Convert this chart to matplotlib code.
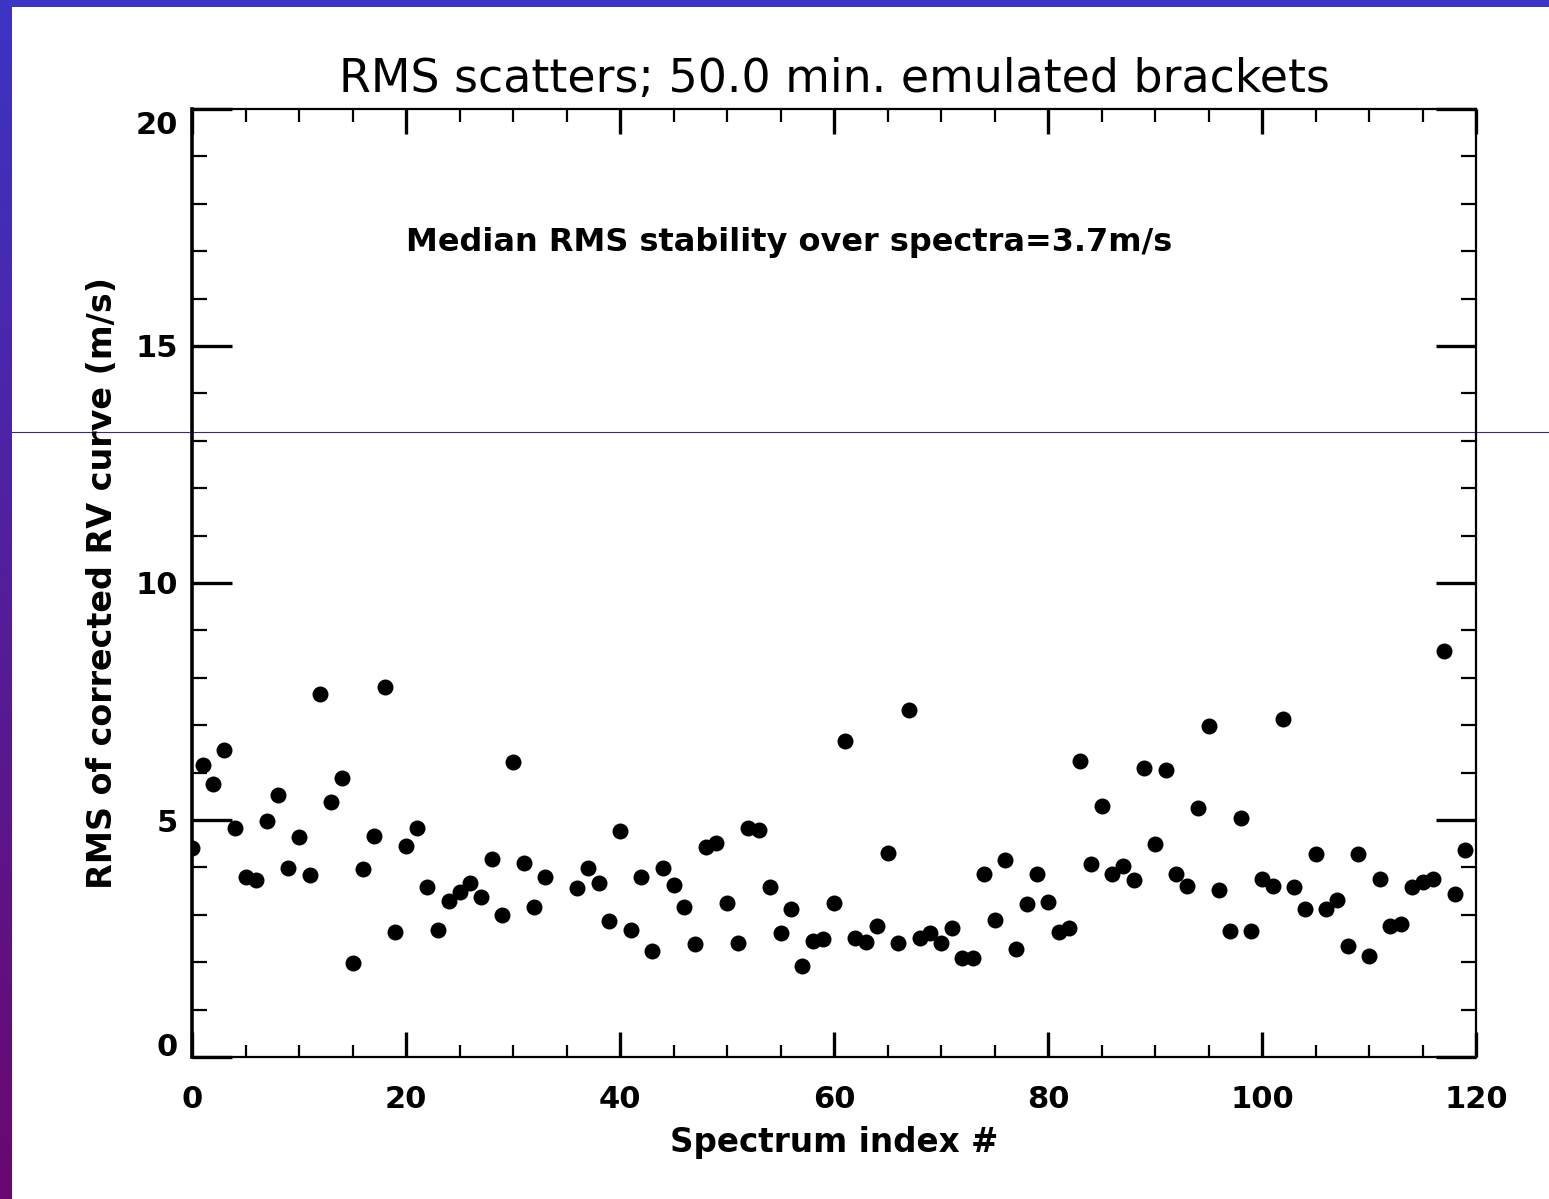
import numpy as np
import matplotlib
matplotlib.use("Agg")
import matplotlib.pyplot as plt
import matplotlib.transforms as mtransforms
from matplotlib.ticker import MultipleLocator

# ---------------- data ----------------
spectrum_index = [i for i in range(120) if i not in (34, 35)]
rms_values = [
    4.41, 6.17, 5.77, 6.48, 4.84, 3.80, 3.74, 4.98, 5.53, 3.99,
    4.65, 3.84, 7.65, 5.39, 5.89, 1.99, 3.97, 4.67, 7.81, 2.64,
    4.46, 4.84, 3.59, 2.68, 3.29, 3.48, 3.67, 3.38, 4.18, 3.00,
    6.23, 4.10, 3.17, 3.80,
    3.57, 3.99, 3.67, 2.87, 4.77, 2.68, 3.80, 2.24, 3.99, 3.63,
    3.17, 2.39, 4.44, 4.52, 3.25, 2.41, 4.84, 4.79, 3.59, 2.62,
    3.13, 1.92, 2.45, 2.49, 3.25, 6.67, 2.51, 2.43, 2.77, 4.31,
    2.41, 7.33, 2.51, 2.62, 2.41, 2.72, 2.09, 2.09, 3.86, 2.89,
    4.16, 2.28, 3.23, 3.86, 3.27, 2.64, 2.72, 6.25, 4.08, 5.30,
    3.86, 4.03, 3.74, 6.10, 4.50, 6.06, 3.86, 3.61, 5.26, 6.99,
    3.53, 2.66, 5.05, 2.66, 3.76, 3.61, 7.14, 3.59, 3.13, 4.29,
    3.13, 3.32, 2.34, 4.29, 2.13, 3.76, 2.77, 2.81, 3.59, 3.70,
    3.76, 8.57, 3.44, 4.37,
]
x_ticks = [0, 20, 40, 60, 80, 100, 120]
y_ticks = [0, 5, 10, 15, 20]
title_text = "RMS scatters; 50.0 min. emulated brackets"
xlabel_text = "Spectrum index #"
ylabel_text = "RMS of corrected RV curve (m/s)"
note_text = "Median RMS stability over spectra=3.7m/s"

W, H = 1549, 1199
fig = plt.figure(figsize=(W / 100, H / 100), dpi=100, facecolor="white")

# ---------------- background decoration ----------------
bg = fig.add_axes([0, 0, 1, 1], zorder=-5)
bg.set_xlim(0, W)
bg.set_ylim(H, 0)
bg.axis("off")
top_col = np.array([0x3c, 0x34, 0xc4]) / 255
bot_col = np.array([0x6a, 0x08, 0x70]) / 255
t = np.linspace(0, 1, 256)[:, None]
grad = (top_col[None, :] * (1 - t) + bot_col[None, :] * t)[:, None, :]
bg.imshow(grad, extent=[0, 12, H, 0], aspect="auto", interpolation="bilinear")
bg.add_patch(plt.Rectangle((0, 0), W, 7, color=top_col, lw=0))
bg.plot([12, W], [431.5, 431.5], color="#3a2590", lw=0.8)
bg.set_xlim(0, W)
bg.set_ylim(H, 0)

# ---------------- main axes ----------------
left, right, top, bottom = 192, 1476, 109, 1057
ax = fig.add_axes([left / W, 1 - bottom / H, (right - left) / W, (bottom - top) / H])
ax.set_facecolor("none")
ax.plot(spectrum_index, rms_values, "o", color="black", ms=11.5, mec="black", mew=0)
ax.set_xlim(0, 120)
ax.set_ylim(0, 20)

fam = ["DejaVu Sans"]
ax.set_xticks(x_ticks)
ax.set_yticks(y_ticks)
ax.xaxis.set_minor_locator(MultipleLocator(5))
ax.yaxis.set_minor_locator(MultipleLocator(1))
ax.tick_params(axis="both", which="both", direction="in", top=True, right=True,
               colors="black")
ax.tick_params(axis="x", which="major", length=18, width=2.4, pad=20, labelsize=22)
ax.tick_params(axis="x", which="minor", length=9, width=1.6)
ax.tick_params(axis="y", which="major", length=29, width=2.4, pad=10, labelsize=22)
ax.tick_params(axis="y", which="minor", length=11, width=1.6)
for lab in ax.get_xticklabels() + ax.get_yticklabels():
    lab.set_fontweight("bold")
    lab.set_family(fam)

# shift end labels inward like the original
for lab in ax.get_yticklabels():
    txt = lab.get_text()
    if txt == "20":
        lab.set_transform(lab.get_transform() + mtransforms.ScaledTranslation(0, -14 / 100, fig.dpi_scale_trans))
    elif txt == "0":
        lab.set_transform(lab.get_transform() + mtransforms.ScaledTranslation(0, 12 / 100, fig.dpi_scale_trans))

for s in ax.spines.values():
    s.set_linewidth(1.6)
    s.set_color("black")
ax.spines["left"].set_linewidth(2.6)

ax.set_title(title_text, fontsize=33, family=fam, pad=12)
ax.set_xlabel(xlabel_text, fontsize=23.5, fontweight="bold", family=fam, labelpad=9)
ax.set_ylabel(ylabel_text, fontsize=24, fontweight="bold", family=fam, labelpad=12)
ax.text(20, 17, note_text, fontsize=23, fontweight="bold", family=fam,
        ha="left", va="baseline")

fig.savefig("out.png", dpi=100, facecolor="white")
